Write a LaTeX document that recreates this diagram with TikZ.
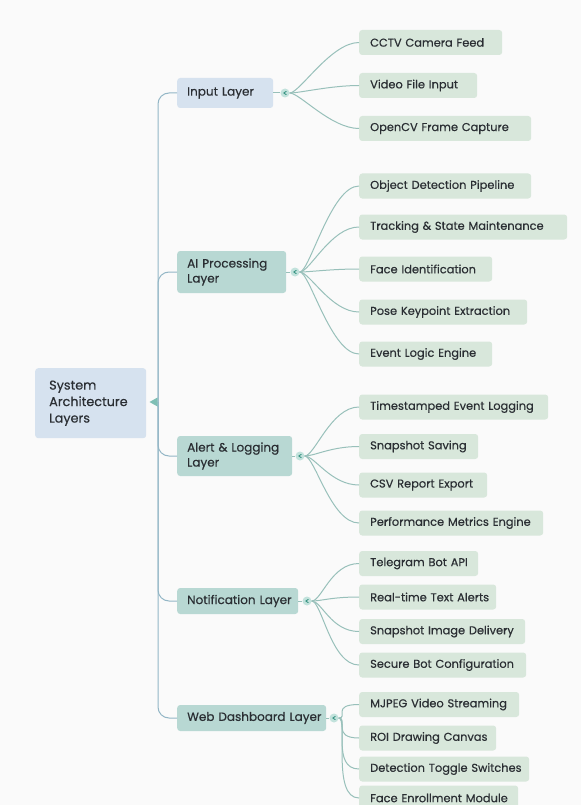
\documentclass[tikz,border=0pt]{standalone}
\usepackage{fontspec}
\setmainfont{Poppins}[FakeBold=0.45]
\usetikzlibrary{calc}
\definecolor{bg}{HTML}{FAFAFA}
\definecolor{bluebox}{HTML}{D6E2EF}
\definecolor{tealbox}{HTML}{B8D8D3}
\definecolor{leafbox}{HTML}{D8E7DB}
\definecolor{trunkc}{HTML}{93B6C6}
\definecolor{branchc}{HTML}{98C0BA}
\definecolor{inddot}{HTML}{C2E2DC}
\definecolor{indarrow}{HTML}{3A9483}
\definecolor{rootind}{HTML}{7FBFB5}
\definecolor{txt}{HTML}{2A2E33}
\newcommand\leafnode[4]{%
  \pgfmathsetmacro\lw{#3-359-22}%
  \node[leafbox, text width=\lw pt] (#1) at (359,#2) {\mbox{#4}};}
\newcommand\layernode[6]{% colour, name, y, right, height, text
  \pgfmathsetmacro\lw{#4-177-20}%
  \node[layerbox, fill=#1, text width=\lw pt, minimum height=#5] (#2) at (177,#3) {#6};}
\begin{document}
\begin{tikzpicture}[x=1pt,y=-1pt,
  font=\fontsize{11.4}{14}\selectfont, text=txt,
  leafbox/.style={fill=leafbox, rounded corners=3pt, anchor=west, minimum height=25,
    inner xsep=11, inner ysep=0, align=left},
  layerbox/.style={rounded corners=3pt, anchor=west,
    inner xsep=10, inner ysep=0, align=left, font=\fontsize{12}{15}\selectfont},
  ind/.style={circle, fill=inddot, minimum size=9, inner sep=0,
    path picture={\draw[indarrow, line width=0.9pt, line cap=round, line join=round]
      ($(path picture bounding box.center)+(1.2,-1.6)$) -- ++(-2.4,1.6) -- ++(2.4,1.6);}},
  trunkline/.style={draw=trunkc, line width=1pt, rounded corners=11},
  branch/.style={draw=branchc, line width=1pt}]
\useasboundingbox (0,0) rectangle (581,805);
\fill[bg] (0,0) rectangle (581,805);
\begin{scope}
\clip (0,0) rectangle (581,805);
% root
\node[fill=bluebox, rounded corners=3pt, anchor=north west, minimum width=111, minimum height=70,
  inner xsep=14, inner ysep=0, align=left, text width=83pt,
  font=\fontsize{12.8}{16.5}\selectfont] (root) at (35,368) {System\\Architecture\\Layers};
\coordinate (rootj) at (158,402);
% layers
\layernode{bluebox}{l1}{93}{273}{30}{Input Layer}
\layernode{tealbox}{l2}{272}{286}{42}{AI Processing\\Layer}
\layernode{tealbox}{l3}{456}{292}{40}{Alert \& Logging\\Layer}
\layernode{tealbox}{l4}{601}{298}{26}{\mbox{Notification Layer}}
\layernode{tealbox}{l5}{718}{326}{26}{\mbox{Web Dashboard Layer}}
% trunk connectors
\foreach \l in {l1,l2,l3,l4,l5}{\draw[trunkline] (rootj) |- (\l.west);}
\fill[rootind] (149.5,402) -- (157.5,397.5) -- (157.5,406.5) -- cycle;
% indicators
\node[ind] (i1) at (285,93) {};
\node[ind] (i2) at (295,272) {};
\node[ind] (i3) at (300,456) {};
\node[ind] (i4) at (307,601) {};
\node[ind] (i5) at (334,718) {};
\draw[branch] (l1.east) -- (i1.west);
\draw[branch] (l2.east) -- (i2.west);
\draw[branch] (l3.east) -- (i3.west);
\draw[branch] (l4.east) -- (i4.west);
\draw[branch] (l5.east) -- (i5.west);
% leaves
\leafnode{a1}{42.5}{502}{CCTV Camera Feed}
\leafnode{a2}{85.5}{477}{Video File Input}
\leafnode{a3}{128.5}{531}{OpenCV Frame Capture}
\leafnode{b1}{186}{531}{Object Detection Pipeline}
\leafnode{b2}{227}{567}{Tracking \& State Maintenance}
\leafnode{b3}{269}{492}{Face Identification}
\leafnode{b4}{312}{527}{Pose Keypoint Extraction}
\leafnode{b5}{354}{492}{Event Logic Engine}
\leafnode{c1}{407}{548}{Timestamped Event Logging}
\leafnode{c2}{446.5}{478}{Snapshot Saving}
\leafnode{c3}{485}{487}{CSV Report Export}
\leafnode{c4}{523}{543}{Performance Metrics Engine}
\leafnode{d1}{563.5}{478}{Telegram Bot API}
\leafnode{d2}{597}{496}{Real-time Text Alerts}
\leafnode{d3}{631.5}{525}{Snapshot Image Delivery}
\leafnode{d4}{665}{526}{Secure Bot Configuration}
\leafnode{e1}{704.5}{519}{MJPEG Video Streaming}
\leafnode{e2}{738}{496}{ROI Drawing Canvas}
\leafnode{e3}{769}{529}{Detection Toggle Switches}
\leafnode{e4}{798}{518}{Face Enrollment Module}
% branch curves
\foreach \i/\list in {i1/{a1,a2,a3}, i2/{b1,b2,b3,b4,b5}, i3/{c1,c2,c3,c4}, i4/{d1,d2,d3,d4}, i5/{e1,e2,e3,e4}}{
  \foreach \lf in \list {
    \draw[branch] (\i.east) .. controls +(10,0) and +(-28,0) .. (\lf.west);
  }
}
\end{scope}
\end{tikzpicture}
\end{document}
